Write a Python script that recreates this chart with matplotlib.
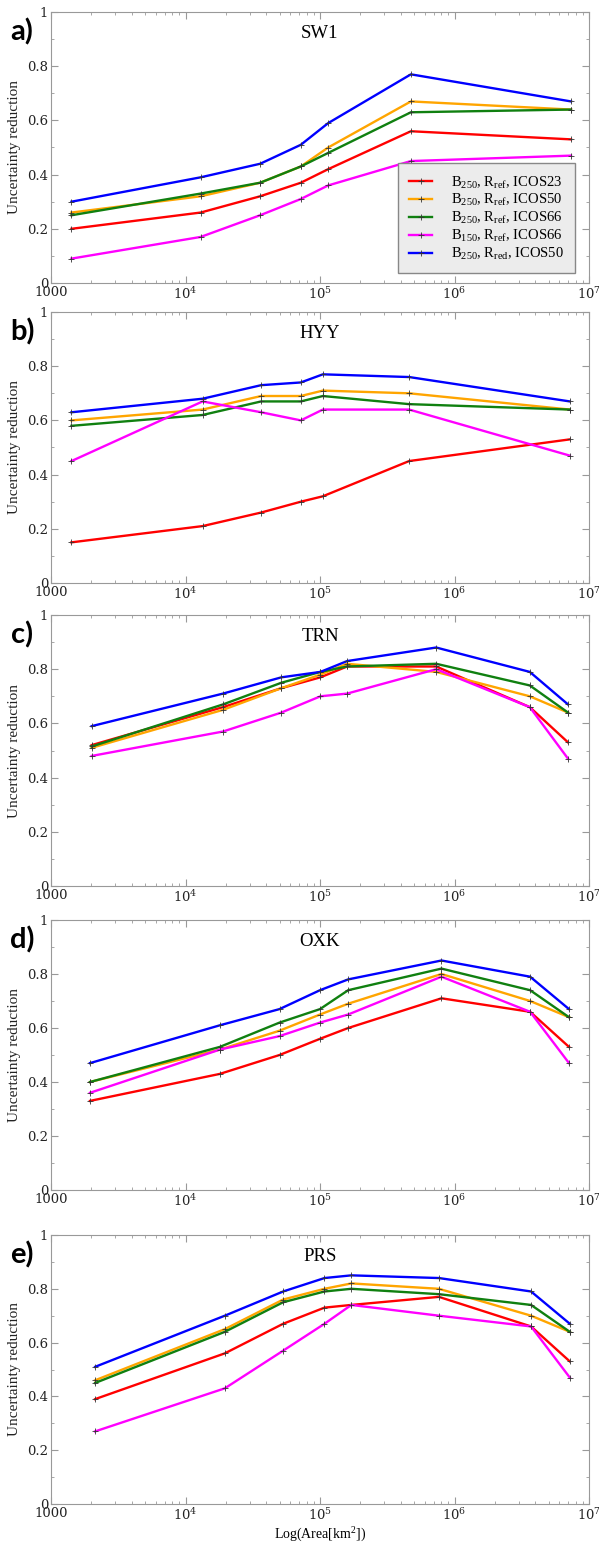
import matplotlib
matplotlib.use('Agg')
import matplotlib.pyplot as plt
import matplotlib.ticker as mticker
import numpy as np

plt.rcParams['font.family'] = 'DejaVu Serif'
plt.rcParams['mathtext.fontset'] = 'dejavuserif'

#%% Data
sites = ['SW1', 'HYY', 'TRN', 'OXK', 'PRS']
panel_tags = ['a)', 'b)', 'c)', 'd)', 'e)']

series_labels = [r'B$_{\mathdefault{250}}$, R$_{\mathdefault{ref}}$, ICOS23',
                 r'B$_{\mathdefault{250}}$, R$_{\mathdefault{ref}}$, ICOS50',
                 r'B$_{\mathdefault{250}}$, R$_{\mathdefault{ref}}$, ICOS66',
                 r'B$_{\mathdefault{150}}$, R$_{\mathdefault{ref}}$, ICOS66',
                 r'B$_{\mathdefault{250}}$, R$_{\mathdefault{red}}$, ICOS50']
series_colors = ['#ff0000', '#ffa500', '#108010', '#ff00ff', '#0000ff']

area_sw1 = [1420, 12970, 35900, 72000, 115000, 474000, 7.35e6]
area_hyy = [1420, 13400, 36500, 72000, 105000, 460000, 7.2e6]
area_trn = [2010, 19000, 51600, 100700, 159000, 731000, 3.63e6, 6.98e6]
area_oxk = [1950, 18000, 50000, 100000, 162000, 800000, 3.65e6, 7.1e6]
area_prs = [2130, 19600, 53200, 108000, 171000, 766000, 3.71e6, 7.2e6]

sw1_red = [0.20, 0.26, 0.32, 0.37, 0.42, 0.56, 0.53]
sw1_orange = [0.26, 0.32, 0.37, 0.43, 0.50, 0.67, 0.64]
sw1_green = [0.25, 0.33, 0.37, 0.43, 0.48, 0.63, 0.64]
sw1_magenta = [0.09, 0.17, 0.25, 0.31, 0.36, 0.45, 0.47]
sw1_blue = [0.30, 0.39, 0.44, 0.51, 0.59, 0.77, 0.67]

hyy_red = [0.15, 0.21, 0.26, 0.30, 0.32, 0.45, 0.53]
hyy_orange = [0.60, 0.64, 0.69, 0.69, 0.71, 0.70, 0.64]
hyy_green = [0.58, 0.62, 0.67, 0.67, 0.69, 0.66, 0.64]
hyy_magenta = [0.45, 0.67, 0.63, 0.60, 0.64, 0.64, 0.47]
hyy_blue = [0.63, 0.68, 0.73, 0.74, 0.77, 0.76, 0.67]

trn_red = [0.52, 0.66, 0.73, 0.77, 0.81, 0.81, 0.66, 0.53]
trn_orange = [0.51, 0.65, 0.73, 0.78, 0.82, 0.79, 0.70, 0.64]
trn_green = [0.515, 0.67, 0.75, 0.79, 0.81, 0.82, 0.74, 0.64]
trn_magenta = [0.48, 0.57, 0.64, 0.70, 0.71, 0.80, 0.66, 0.47]
trn_blue = [0.59, 0.71, 0.77, 0.79, 0.83, 0.88, 0.79, 0.67]

oxk_red = [0.33, 0.43, 0.50, 0.56, 0.60, 0.71, 0.66, 0.53]
oxk_orange = [0.40, 0.52, 0.59, 0.65, 0.69, 0.80, 0.70, 0.64]
oxk_green = [0.40, 0.53, 0.62, 0.67, 0.74, 0.82, 0.74, 0.64]
oxk_magenta = [0.36, 0.52, 0.57, 0.62, 0.65, 0.79, 0.66, 0.47]
oxk_blue = [0.47, 0.61, 0.67, 0.74, 0.78, 0.85, 0.79, 0.67]

prs_red = [0.39, 0.56, 0.67, 0.73, 0.74, 0.77, 0.66, 0.53]
prs_orange = [0.46, 0.65, 0.76, 0.80, 0.82, 0.80, 0.70, 0.64]
prs_green = [0.45, 0.64, 0.75, 0.79, 0.80, 0.78, 0.74, 0.64]
prs_magenta = [0.27, 0.43, 0.57, 0.67, 0.74, 0.70, 0.66, 0.47]
prs_blue = [0.51, 0.70, 0.79, 0.84, 0.85, 0.84, 0.79, 0.67]

panels = [
    (area_sw1, [sw1_red, sw1_orange, sw1_green, sw1_magenta, sw1_blue]),
    (area_hyy, [hyy_red, hyy_orange, hyy_green, hyy_magenta, hyy_blue]),
    (area_trn, [trn_red, trn_orange, trn_green, trn_magenta, trn_blue]),
    (area_oxk, [oxk_red, oxk_orange, oxk_green, oxk_magenta, oxk_blue]),
    (area_prs, [prs_red, prs_orange, prs_green, prs_magenta, prs_blue]),
]

#%% Layout (pixel boxes of the axes)
W, H = 599, 1545
fig = plt.figure(figsize=(W / 100, H / 100), dpi=100)
boxes = [(12, 283), (312, 583), (615, 886), (920, 1190), (1235, 1504)]
left_px, right_px = 51, 589
frame_col = '#999999'
label_font = 'Liberation Serif'


def ytick_fmt(v, pos):
    if abs(v) < 1e-9:
        return '0'
    if abs(v - 1) < 1e-9:
        return '1'
    return '%.1f' % v


def xtick_fmt(v, pos):
    if abs(v - 1000) < 1e-6:
        return '1000'
    return r'$\mathdefault{10^{%d}}$' % int(round(np.log10(v)))


for i, (top, bot) in enumerate(boxes):
    axw = right_px - left_px
    ax = fig.add_axes([left_px / W, (H - bot) / H, axw / W, (bot - top) / H])
    area, vals = panels[i]
    for y, c, lab in zip(vals, series_colors, series_labels):
        ax.plot(area, y, color=c, lw=1.7, marker='+', ms=5,
                mec='#333333', mew=0.6, label=lab)
    ax.set_xscale('log')
    ax.set_xlim(1000, 1e7)
    ax.set_ylim(0, 1)
    ax.yaxis.set_major_locator(mticker.MultipleLocator(0.2))
    ax.yaxis.set_minor_locator(mticker.MultipleLocator(0.1))
    ax.yaxis.set_major_formatter(mticker.FuncFormatter(ytick_fmt))
    ax.xaxis.set_major_locator(mticker.LogLocator(base=10, numticks=10))
    ax.xaxis.set_minor_locator(mticker.LogLocator(base=10, subs=np.arange(2, 10), numticks=20))
    ax.xaxis.set_minor_formatter(mticker.NullFormatter())
    ax.xaxis.set_major_formatter(mticker.FuncFormatter(xtick_fmt))
    ax.tick_params(which='both', direction='in', top=True, right=True,
                   color=frame_col, labelsize=9.5, labelcolor='#222222', pad=2)
    ax.tick_params(which='major', length=5)
    ax.tick_params(which='minor', length=2.5)
    for s in ax.spines.values():
        s.set_color(frame_col)
    ax.set_ylabel('Uncertainty reduction', fontsize=11, family=label_font,
                  color='#222222')
    ax.yaxis.set_label_coords((21 - left_px) / axw, 0.5)
    ax.text(0.5, 0.92, sites[i], transform=ax.transAxes, ha='center',
            va='center', fontsize=13.5, family=label_font)
    fig.text(22 / W, 1 - (top + 20) / H, panel_tags[i], fontsize=21,
             fontweight='bold', family='Lato', va='center', ha='center')
    if i == 0:
        ax.legend(loc='lower right', fancybox=False, framealpha=1,
                  prop={'family': label_font, 'size': 10.5},
                  facecolor='#ececec', edgecolor='#888888',
                  handlelength=1.6, handletextpad=1.3, borderpad=0.75,
                  labelspacing=0.1, borderaxespad=0,
                  bbox_to_anchor=((575 - left_px) / axw, 10 / 271))
    if i == 4:
        ax.set_xlabel(r'Log(Area[km$^\mathdefault{2}$])', fontsize=10,
                      family=label_font, labelpad=1)

fig.savefig('out.png', dpi=100)
